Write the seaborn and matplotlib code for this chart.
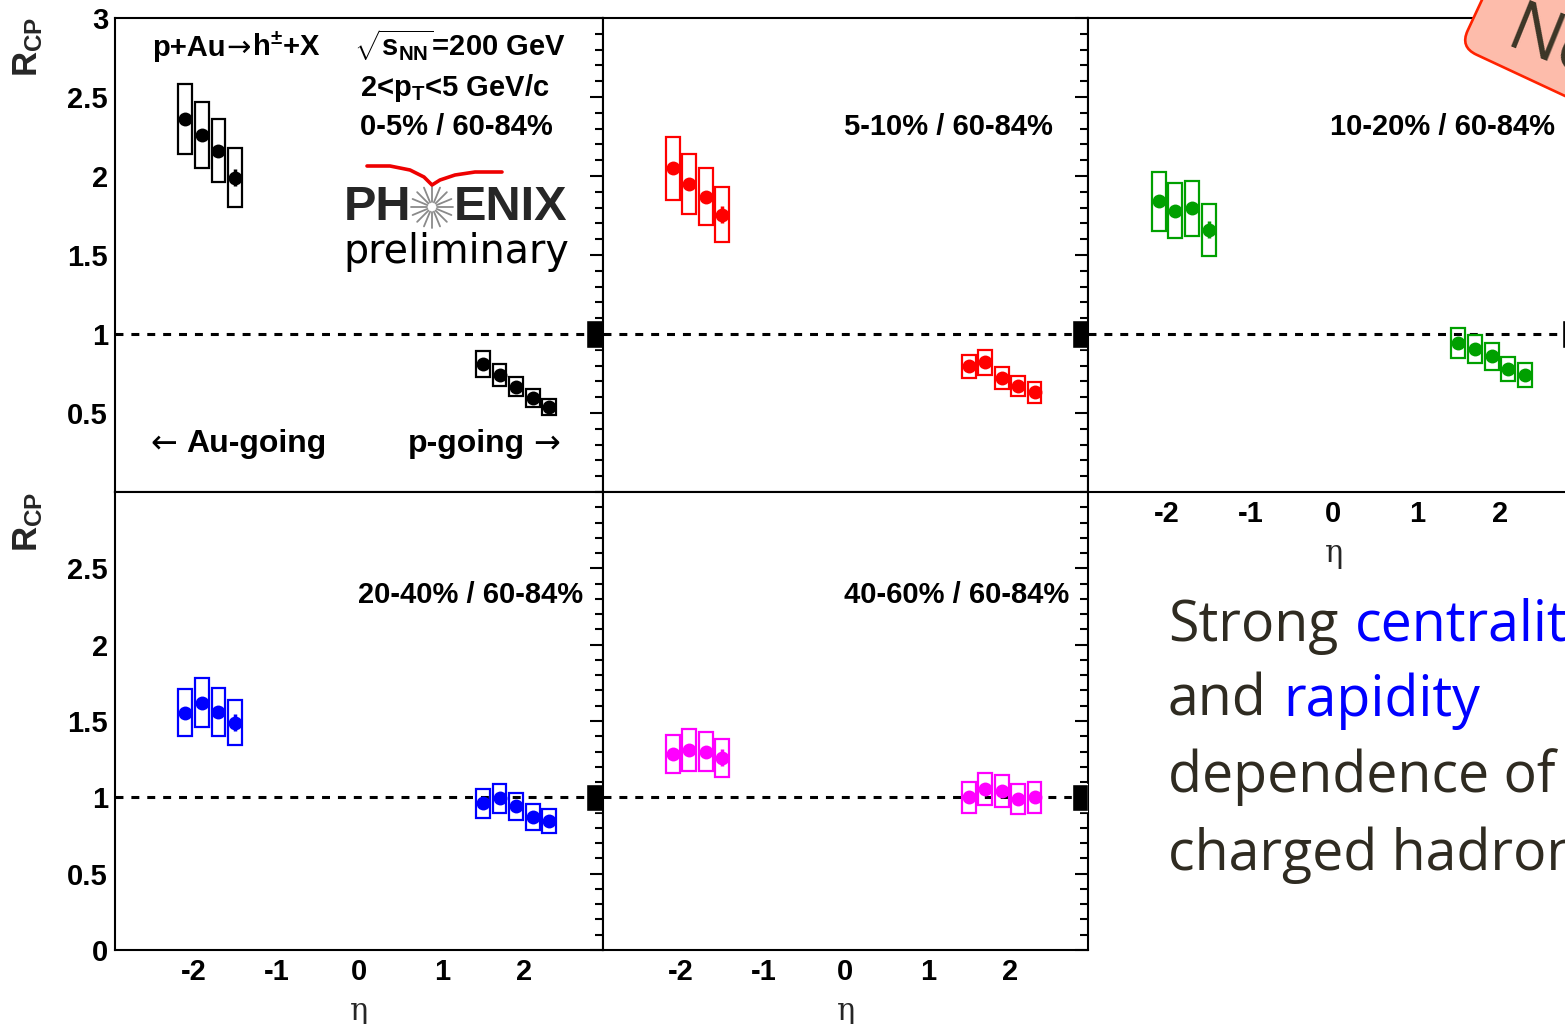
import numpy as np
import pandas as pd
import matplotlib
matplotlib.use('Agg')
import matplotlib.pyplot as plt
import seaborn as sns
from matplotlib.ticker import MultipleLocator, FixedLocator, FuncFormatter
from matplotlib.patches import FancyBboxPatch
from matplotlib.transforms import Affine2D

# eta bins
eta_back = [-2.1, -1.9, -1.7, -1.5]
eta_fwd = [1.5, 1.7, 1.9, 2.1, 2.3]

labels = ['0-5% / 60-84%', '5-10% / 60-84%', '10-20% / 60-84%',
          '20-40% / 60-84%', '40-60% / 60-84%']
colors = ['black', '#ff0000', '#00a000', '#0000ff', '#ff00ff']

# R_CP values, Au-going (backward) side
r_back = [
    [2.36, 2.26, 2.16, 1.99],
    [2.05, 1.95, 1.87, 1.755],
    [1.84, 1.78, 1.795, 1.66],
    [1.555, 1.62, 1.56, 1.49],
    [1.285, 1.31, 1.30, 1.26],
]
sys_back = [
    [0.22, 0.21, 0.20, 0.185],
    [0.20, 0.19, 0.18, 0.175],
    [0.185, 0.175, 0.175, 0.165],
    [0.155, 0.16, 0.155, 0.145],
    [0.125, 0.135, 0.13, 0.125],
]
stat_back = [0.03, 0.03, 0.035, 0.055]

# R_CP values, p-going (forward) side
r_fwd = [
    [0.81, 0.74, 0.665, 0.595, 0.54],
    [0.795, 0.82, 0.72, 0.67, 0.63],
    [0.94, 0.905, 0.86, 0.78, 0.74],
    [0.96, 0.995, 0.94, 0.87, 0.845],
    [1.0, 1.055, 1.04, 0.99, 1.0],
]
sys_fwd = [
    [0.08, 0.07, 0.06, 0.055, 0.05],
    [0.075, 0.08, 0.07, 0.065, 0.065],
    [0.095, 0.09, 0.085, 0.075, 0.075],
    [0.095, 0.095, 0.09, 0.085, 0.08],
    [0.10, 0.105, 0.105, 0.10, 0.10],
]
stat_fwd = [0.02, 0.02, 0.02, 0.02, 0.025]
norm_unc = 0.09

sns.set_style('white')
plt.rcParams['font.family'] = ['Liberation Sans', 'DejaVu Sans']
plt.rcParams['mathtext.fontset'] = 'custom'
plt.rcParams['mathtext.rm'] = 'Liberation Sans:bold'
plt.rcParams['mathtext.it'] = 'Liberation Sans:bold'
plt.rcParams['mathtext.bf'] = 'Liberation Sans:bold'

W, H = 1565, 1024
fig = plt.figure(figsize=(W / 100, H / 100), dpi=100)
fig.patch.set_facecolor('white')

# panel boxes in pixels: left, top, width, height
boxes = [(115, 18, 488, 474), (603, 18, 485, 474), (1088, 18, 491, 474),
         (115, 492, 488, 458), (603, 492, 485, 458)]

def frame(b):
    l, t, w, h = b
    return [l / W, 1 - (t + h) / H, w / W, h / H]

fmt = FuncFormatter(lambda v, p: f'{v:g}')
axes = []
for i, b in enumerate(boxes):
    ax = fig.add_axes(frame(b))
    ax.set_facecolor('white')
    c = colors[i]
    df_b = pd.DataFrame({'eta': eta_back, 'R': r_back[i], 'sys': sys_back[i], 'stat': stat_back})
    df_f = pd.DataFrame({'eta': eta_fwd, 'R': r_fwd[i], 'sys': sys_fwd[i], 'stat': stat_fwd})
    df = pd.concat([df_b, df_f], ignore_index=True)

    ax.axhline(1, color='black', lw=2.2, ls=(0, (2.6, 2.6)), zorder=1)
    ax.bar(df['eta'], 2 * df['sys'], bottom=df['R'] - df['sys'], width=0.166,
           fill=False, edgecolor=c, linewidth=1.6, zorder=2)
    ax.errorbar(df['eta'], df['R'], yerr=df['stat'], fmt='none', ecolor=c,
                elinewidth=2.5, zorder=3)
    sns.scatterplot(data=df, x='eta', y='R', ax=ax, color=c, s=100,
                    edgecolor=c, linewidth=0, zorder=4, legend=False)
    ax.bar([2.85], [2 * norm_unc], bottom=1 - norm_unc, width=0.2,
           color='black', zorder=5)

    ax.set_xlim(-2.95, 2.95)
    ax.set_ylim(0, 3)
    ax.xaxis.set_major_locator(FixedLocator([-2, -1, 0, 1, 2]))
    ax.xaxis.set_minor_locator(MultipleLocator(0.5))
    if i < 3:
        ax.yaxis.set_major_locator(FixedLocator([0.5, 1, 1.5, 2, 2.5, 3]))
    else:
        ax.yaxis.set_major_locator(FixedLocator([0, 0.5, 1, 1.5, 2, 2.5]))
    ax.yaxis.set_minor_locator(MultipleLocator(0.1))
    ax.xaxis.set_major_formatter(fmt)
    ax.yaxis.set_major_formatter(fmt)
    ax.tick_params(which='both', direction='in', width=1.5, top=False,
                   right=True, labelright=False, colors='black')
    ax.tick_params(axis='x', which='major', length=12, pad=6)
    ax.tick_params(axis='x', which='minor', length=5.5)
    ax.tick_params(axis='y', which='major', length=9.5, pad=5)
    ax.tick_params(axis='y', which='minor', length=5.5)
    for lab in ax.get_xticklabels() + ax.get_yticklabels():
        lab.set_fontsize(21)
        lab.set_fontweight('bold')
    ax.tick_params(labelleft=(i in (0, 3)), labelbottom=(i >= 2))
    for s in ax.spines.values():
        s.set_linewidth(1.5)
        s.set_color('black')
    ax.set_ylabel('')
    if i >= 2:
        ax.set_xlabel('η', fontsize=22, family='DejaVu Serif', labelpad=7)
    else:
        ax.set_xlabel('')
    axes.append(ax)

# overlay in pixel coordinates for annotations
ov = fig.add_axes([0, 0, 1, 1], zorder=10)
ov.set_xlim(0, W)
ov.set_ylim(H, 0)
ov.axis('off')
ov.patch.set_alpha(0)
renderer = fig.canvas.get_renderer()

def chain(x, y, pieces):
    # place text pieces one after another on a common baseline
    for s, gap, kw in pieces:
        t = ov.text(x + gap, y, s, ha='left', va='baseline', **kw)
        bb = t.get_window_extent(renderer)
        x = ov.transData.inverted().transform((bb.x1, 0))[0]

B = dict(fontsize=21, fontweight='bold', color='black')
ARR = dict(fontsize=21, family='DejaVu Sans', fontweight='normal', color='black')
chain(152, 56, [('p+Au', 0, B), ('→', 1, ARR), ('h$^{\\pm}$+X', 1, B)])
ov.text(354, 56, '$\\sqrt{s_{NN}}$=200 GeV', ha='left', va='baseline', **B)
ov.text(360, 96, '2<p$_{T}$<5 GeV/c', ha='left', va='baseline', **B)
ov.text(360, 135, labels[0], ha='left', va='baseline', **B)
ov.text(1053, 135, labels[1], ha='right', va='baseline', **B)
ov.text(1555, 135, labels[2], ha='right', va='baseline', **B)
ov.text(583, 603, labels[3], ha='right', va='baseline', **B)
ov.text(1069, 603, labels[4], ha='right', va='baseline', **B)

G = dict(fontsize=23, fontweight='bold', color='black')
GA = dict(fontsize=23, family='DejaVu Sans', fontweight='normal', color='black')
chain(150, 452, [('←', 0, GA), ('Au-going', 9, G)])
chain(408, 452, [('p-going', 0, G), ('→', 8, GA)])

for yc in (47, 522):
    ov.text(28, yc, 'R$_{CP}$', rotation=90, ha='center', va='center',
            fontsize=25, fontweight='bold')

# PHENIX preliminary logo
ov.text(411, 207, 'PH', ha='right', va='center', fontsize=35, fontweight='bold')
ov.text(454, 207, 'ENIX', ha='left', va='center', fontsize=35, fontweight='bold')
ang = np.linspace(0, 2 * np.pi, 16, endpoint=False)
for a in ang:
    ov.plot([432 + 5 * np.cos(a), 432 + 21 * np.cos(a)],
            [207 + 5 * np.sin(a), 207 + 21 * np.sin(a)], color='#8a8a8a', lw=1.3)
sw_x = np.array([367, 390, 410, 424, 432, 440, 455, 475, 502])
sw_y = np.array([166, 166, 170, 177, 185, 180, 175, 172, 172])
ov.plot(sw_x, sw_y, color='#ee0000', lw=2.6, solid_capstyle='round')
ov.text(456, 263, 'preliminary', ha='center', va='baseline', fontsize=28.5,
        family='DejaVu Sans', color='black')

# slide text
dark = '#2f2b21'
S = dict(fontsize=40, family='Open Sans', color=dark)
SB = dict(fontsize=40, family='Open Sans', color='#0000ff')
chain(1168, 641, [('Strong', 0, S), ('centrality', 17, SB)])
chain(1168, 716, [('and', 0, S), ('rapidity', 17, SB)])
chain(1168, 792, [('dependence of', 0, S)])
chain(1168, 870, [('charged hadron', 0, S)])

# red callout in the corner
call = FancyBboxPatch((1460, 47 - 170), 320, 170,
                      boxstyle='round,pad=0,rounding_size=18',
                      facecolor='#fdbcab', edgecolor='#ff2200', lw=1.9)
call.set_transform(Affine2D().rotate_deg_around(1460, 47, 25) + ov.transData)
ov.add_patch(call)
ov.text(1503, 46, 'Ne', rotation=-22, rotation_mode='anchor', ha='left',
        va='baseline', fontsize=50, family='Open Sans', color='#3b3526')

fig.savefig('out.png', dpi=100)
